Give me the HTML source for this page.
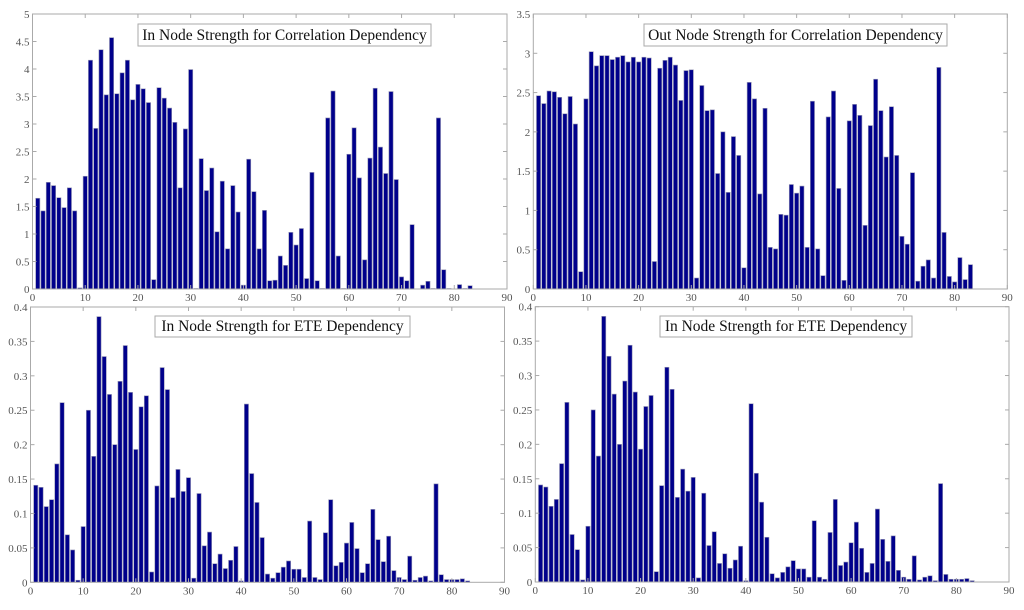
<!DOCTYPE html>
<html><head><meta charset="utf-8"><style>
body{margin:0;background:#fff;width:1024px;height:610px;overflow:hidden}
svg{display:block}
text{font-family:"Liberation Serif",serif}
</style></head><body>
<svg id="s" width="1024" height="610"></svg>
<script>
const xTicks=[0,10,20,30,40,50,60,70,80,90];
const inCorr=[1.65,1.42,1.94,1.88,1.66,1.48,1.84,1.42,0.02,2.05,4.16,2.92,4.35,3.53,4.57,3.55,3.93,4.16,3.44,3.72,3.64,3.39,0.17,3.66,3.47,3.29,3.03,1.84,2.91,3.99,0.01,2.37,1.79,2.2,1.04,1.96,0.73,1.88,1.4,0.07,2.36,1.77,0.73,1.43,0.15,0.16,0.6,0.43,1.03,0.8,1.1,0.19,2.12,0.15,0.01,3.11,3.6,0.6,0.01,2.45,2.93,2.02,0.53,2.38,3.65,2.58,2.1,3.59,1.99,0.22,0.15,1.17,0.0,0.07,0.14,0.01,3.11,0.35,0.01,0.0,0.08,0.01,0.06];
const outCorr=[2.46,2.36,2.52,2.51,2.44,2.23,2.45,2.1,0.22,2.42,3.02,2.84,2.97,2.97,2.92,2.95,2.97,2.89,2.95,2.89,2.95,2.94,0.35,2.81,2.91,2.95,2.85,2.4,2.78,2.79,0.14,2.59,2.27,2.28,1.47,2.0,1.23,1.94,1.7,0.27,2.63,2.42,1.21,2.3,0.53,0.51,0.95,0.94,1.33,1.22,1.31,0.53,2.39,0.51,0.17,2.19,2.52,1.28,0.11,2.14,2.35,2.21,0.81,2.08,2.67,2.27,1.68,2.32,1.7,0.67,0.57,1.48,0.1,0.29,0.37,0.14,2.82,0.72,0.16,0.09,0.4,0.12,0.31];
const inEte=[0.141,0.138,0.11,0.12,0.172,0.261,0.069,0.047,0.003,0.081,0.25,0.183,0.386,0.328,0.273,0.2,0.292,0.344,0.276,0.193,0.255,0.271,0.015,0.14,0.312,0.28,0.123,0.164,0.132,0.152,0.006,0.129,0.053,0.073,0.027,0.041,0.02,0.032,0.052,0.002,0.259,0.158,0.116,0.065,0.012,0.006,0.014,0.022,0.031,0.019,0.019,0.007,0.089,0.007,0.004,0.072,0.12,0.024,0.029,0.057,0.087,0.049,0.014,0.027,0.106,0.062,0.03,0.067,0.017,0.007,0.004,0.038,0.003,0.007,0.009,0.002,0.143,0.011,0.004,0.004,0.004,0.005,0.002];
const yTicksCorrIn=[0,0.5,1,1.5,2,2.5,3,3.5,4,4.5,5];
const yTicksCorrOut=[0,0.5,1,1.5,2,2.5,3,3.5];
const yTicksEte=[0,0.05,0.1,0.15,0.2,0.25,0.3,0.35,0.4];

const NS="http://www.w3.org/2000/svg";
const svg=document.getElementById('s');
function mk(tag,attrs,parent){const e=document.createElementNS(NS,tag);for(const k in attrs)e.setAttribute(k,attrs[k]);(parent||svg).appendChild(e);return e;}

function panel(name,L,R,T,B,yMax,yT,vals,title,tb){
  const g=mk('g',{});
  
  
  const xs=v=>L+(R-L)*v/90, ys=v=>B-(B-T)*v/yMax;
  const bw=(R-L)/90*0.8;
  vals.forEach((v,i)=>{
    const r=mk('rect',{x:xs(i+1)-bw/2,y:ys(v),width:bw,height:B-ys(v),fill:'#00008b',stroke:'#9a9ab8','stroke-width':0.6},g);
    
    
  });
  mk('rect',{x:L,y:T,width:R-L,height:B-T,fill:'none',stroke:'#aaa','stroke-width':1},g);
  xTicks.forEach(t=>{
    const x=xs(t);
    mk('line',{x1:x,x2:x,y1:B,y2:B-4,stroke:'#aaa'},g);
    mk('line',{x1:x,x2:x,y1:T,y2:T+4,stroke:'#aaa'},g);
    const tx=mk('text',{x:x,y:B+12,'font-size':11,fill:'#555','text-anchor':'middle'},g);
    tx.textContent=t;
    
    
  });
  yT.forEach(t=>{
    const y=ys(t);
    mk('line',{x1:L,x2:L+4,y1:y,y2:y,stroke:'#aaa'},g);
    mk('line',{x1:R,x2:R-4,y1:y,y2:y,stroke:'#aaa'},g);
    const tx=mk('text',{x:L-3,y:y+4,'font-size':11,fill:'#555','text-anchor':'end'},g);
    tx.textContent=t;
    
    
  });
  const bx=mk('rect',{x:tb[0],y:tb[1],width:tb[2]-tb[0],height:tb[3]-tb[1],fill:'#fff',stroke:'#aaa'},g);
  
  
  const tt=mk('text',{x:(tb[0]+tb[2])/2,y:tb[3]-6,'font-size':15.5,fill:'#111','text-anchor':'middle'},g);
  tt.textContent=title;
  
  
}
panel('in-corr-panel',32.5,507,14,289,5,yTicksCorrIn,inCorr,'In Node Strength for Correlation Dependency',[138,24,431,46]);
panel('out-corr-panel',533.3,1007.3,14,289,3.5,yTicksCorrOut,outCorr,'Out Node Strength for Correlation Dependency',[644,24,947,46]);
panel('in-ete-panel-left',30.5,504.5,307,582.3,0.4,yTicksEte,inEte,'In Node Strength for ETE Dependency',[155,316,410,337]);
panel('in-ete-panel-right',535.3,1009,306.7,582,0.4,yTicksEte,inEte,'In Node Strength for ETE Dependency',[660,316,912,337]);
</script>
</body></html>
